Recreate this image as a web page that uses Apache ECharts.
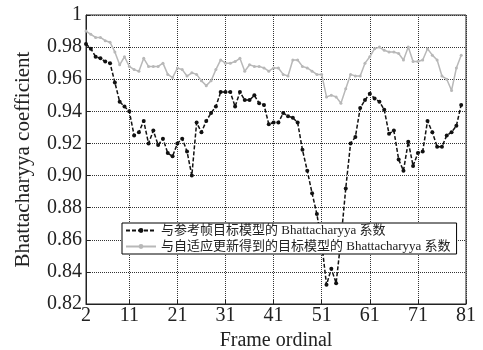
<!DOCTYPE html>
<html>
<head>
<meta charset="utf-8">
<script src="https://cdn.jsdelivr.net/npm/echarts@6/dist/echarts.min.js"></script>
<style>
  html, body { margin: 0; padding: 0; background: #fff; }
  #chart { width: 483px; height: 350px; }
</style>
</head>
<body>
<div id="chart"></div>
<script>
// frame numbers 2..81 on the x axis
var frames = [];
for (var f = 2; f <= 81; f++) {
    frames.push(String(f));
}
var tickFrames = ['2', '11', '21', '31', '41', '51', '61', '71', '81'];

// frames 2..80
var refModel = [0.982, 0.979, 0.974, 0.973, 0.971, 0.970, 0.958, 0.946, 0.943, 0.940,
    0.925, 0.927, 0.934, 0.920, 0.928, 0.919, 0.923, 0.914, 0.912, 0.920,
    0.923, 0.915, 0.900, 0.933, 0.927, 0.934, 0.939, 0.943, 0.952, 0.952,
    0.952, 0.943, 0.952, 0.947, 0.947, 0.950, 0.945, 0.944, 0.932, 0.933,
    0.933, 0.939, 0.937, 0.936, 0.933, 0.916, 0.903, 0.889, 0.876, 0.858,
    0.832, 0.842, 0.833, 0.860, 0.892, 0.920, 0.924, 0.942, 0.947, 0.951,
    0.948, 0.946, 0.941, 0.926, 0.928, 0.910, 0.903, 0.921, 0.906, 0.914,
    0.915, 0.934, 0.927, 0.918, 0.918, 0.925, 0.927, 0.931, 0.944];

var adaptModel = [0.990, 0.988, 0.986, 0.986, 0.984, 0.983, 0.977, 0.969, 0.974, 0.968,
    0.966, 0.965, 0.973, 0.968, 0.968, 0.968, 0.970, 0.963, 0.961, 0.967,
    0.966, 0.962, 0.964, 0.963, 0.959, 0.956, 0.959, 0.966, 0.972, 0.970,
    0.970, 0.971, 0.973, 0.965, 0.969, 0.968, 0.968, 0.967, 0.965, 0.967,
    0.967, 0.963, 0.962, 0.972, 0.972, 0.968, 0.967, 0.965, 0.963, 0.963,
    0.949, 0.950, 0.949, 0.945, 0.954, 0.963, 0.962, 0.962, 0.970, 0.974,
    0.979, 0.980, 0.978, 0.977, 0.977, 0.976, 0.972, 0.980, 0.971, 0.971,
    0.972, 0.979, 0.975, 0.972, 0.962, 0.960, 0.953, 0.967, 0.975];

var seriesNames = ['与参考帧目标模型的 Bhattacharyya 系数', '与自适应更新得到的目标模型的 Bhattacharyya 系数'];

var fontFam = "'Liberation Serif', 'Noto Sans CJK SC', serif";
var chart = echarts.init(document.getElementById('chart'));

function showTick(index, value) {
    return tickFrames.indexOf(value) !== -1;
}

var option = {
    backgroundColor: '#fff',
    animation: false,
    textStyle: { fontFamily: fontFam },
    grid: {
        left: 86,
        right: 17,
        top: 15,
        bottom: 46,
        outerBoundsMode: 'none',
        show: true,
        borderColor: '#222',
        borderWidth: 1
    },
    legend: {
        orient: 'vertical',
        left: 122,
        top: 223,
        itemGap: 3,
        itemWidth: 30,
        itemHeight: 6,
        padding: [1, 6, 1, 3],
        borderColor: '#000',
        borderWidth: 1,
        borderRadius: 0,
        backgroundColor: '#fff',
        textStyle: { fontFamily: fontFam, fontSize: 13, color: '#222' },
        data: seriesNames
    },
    xAxis: {
        type: 'category',
        data: frames,
        boundaryGap: false,
        name: 'Frame ordinal',
        nameLocation: 'middle',
        nameGap: 27,
        nameTextStyle: { fontFamily: fontFam, fontSize: 20, color: '#222' },
        axisLine: { lineStyle: { color: '#222' } },
        axisTick: { interval: showTick, inside: true, length: 4, lineStyle: { color: '#222' } },
        axisLabel: { interval: showTick, fontFamily: fontFam, fontSize: 20, color: '#222', margin: 2 },
        splitLine: { show: true, interval: showTick, lineStyle: { type: 'dotted', color: '#333', width: 1 } }
    },
    yAxis: {
        type: 'value',
        min: 0.82,
        max: 1,
        interval: 0.02,
        name: 'Bhattacharyya coefficient',
        nameLocation: 'middle',
        nameGap: 52,
        nameTextStyle: { fontFamily: fontFam, fontSize: 21, color: '#222' },
        axisLine: { show: true, lineStyle: { color: '#222' } },
        axisTick: { show: true, inside: true, length: 4, lineStyle: { color: '#222' } },
        axisLabel: {
            fontFamily: fontFam,
            fontSize: 20,
            color: '#222',
            margin: 4,
            formatter: function (v) {
                return v > 0.999 ? '1' : v.toFixed(2);
            }
        },
        splitLine: { show: true, lineStyle: { type: 'dotted', color: '#333', width: 1 } }
    },
    series: [{
        name: seriesNames[0],
        type: 'line',
        data: refModel,
        symbol: 'circle',
        symbolSize: 4,
        showAllSymbol: true,
        itemStyle: { color: '#111' },
        lineStyle: { color: '#111', width: 1.5, type: [4, 2] }
    }, {
        name: seriesNames[1],
        type: 'line',
        data: adaptModel,
        symbol: 'circle',
        symbolSize: 3,
        showAllSymbol: true,
        itemStyle: { color: '#b8b8b8' },
        lineStyle: { color: '#b8b8b8', width: 1.5 }
    }]
};

chart.setOption(option);
</script>
</body>
</html>
